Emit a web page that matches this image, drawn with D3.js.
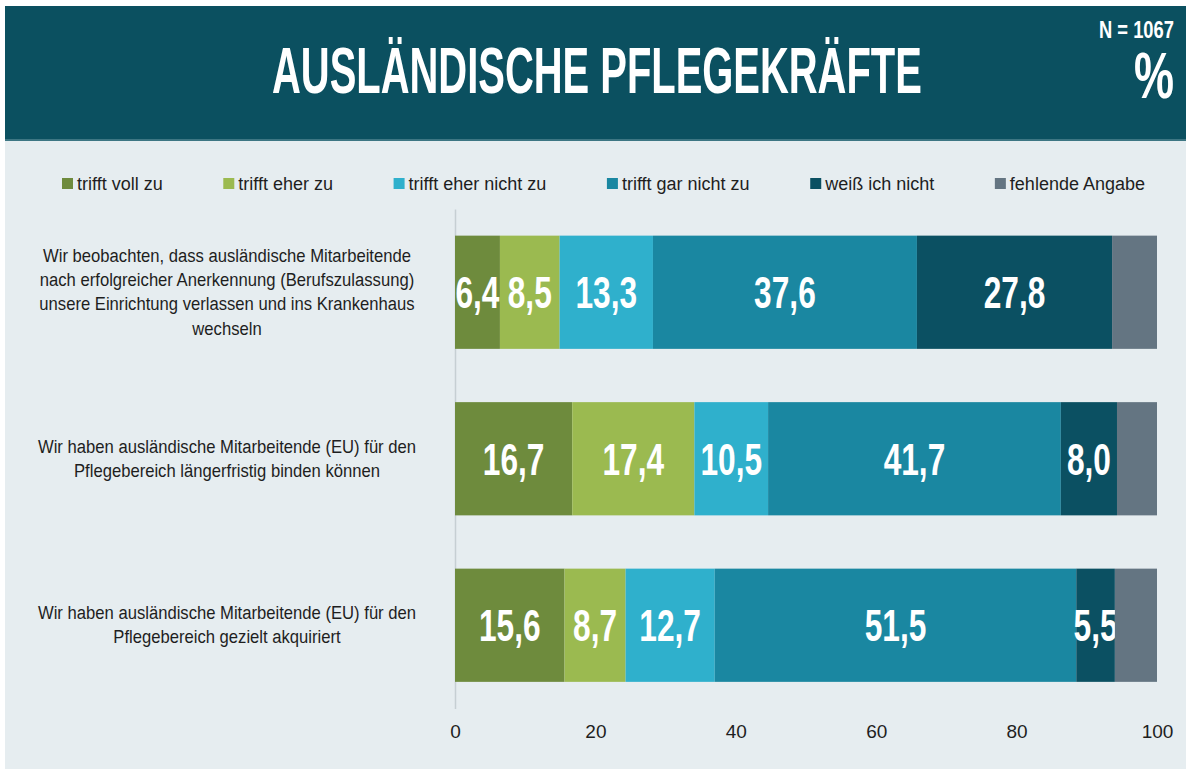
<!DOCTYPE html>
<html>
<head>
<meta charset="utf-8">
<title>Ausländische Pflegekräfte</title>
<script src="https://cdnjs.cloudflare.com/ajax/libs/d3/7.8.5/d3.min.js"></script>
<style>
body { margin: 0; background: #fff; }
.narrow { font-family: "Liberation Sans Narrow", "Arial Narrow", "Liberation Sans", sans-serif; }
.cat-label { font-size: 18.5px; fill: #1e1e1e; text-anchor: middle; }
.legend-label { font-size: 18px; fill: #1e1e1e; }
.tick text { font-family: "Liberation Sans Narrow", "Arial Narrow", "Liberation Sans", sans-serif; font-size: 19px; fill: #1e1e1e; }
.value { font-weight: bold; fill: #fff; text-anchor: middle; }
.head { font-weight: bold; fill: #fff; }
</style>
</head>
<body>
<svg id="chart" width="1186" height="769"></svg>
<script>
// categories (top to bottom)
var categories = [
  "Wir beobachten, dass ausländische Mitarbeitende\nnach erfolgreicher Anerkennung (Berufszulassung)\nunsere Einrichtung verlassen und ins Krankenhaus\nwechseln",
  "Wir haben ausländische Mitarbeitende (EU) für den\nPflegebereich längerfristig binden können",
  "Wir haben ausländische Mitarbeitende (EU) für den\nPflegebereich gezielt akquiriert"
];
var seriesNames = ["trifft voll zu", "trifft eher zu", "trifft eher nicht zu",
                   "trifft gar nicht zu", "weiß ich nicht", "fehlende Angabe"];
var vollZu      = [6.4, 16.7, 15.6];
var eherZu      = [8.5, 17.4, 8.7];
var eherNichtZu = [13.3, 10.5, 12.7];
var garNichtZu  = [37.6, 41.7, 51.5];
var weissNicht  = [27.8, 8.0, 5.5];
var fehlend     = [6.4, 5.7, 6.0];
var xTicks = [0, 20, 40, 60, 80, 100];

var palette = ["#6e8b3d", "#9bba50", "#2fb0cc", "#1a87a1", "#0b5062", "#647582"];
var seriesValues = [vollZu, eherZu, eherNichtZu, garNichtZu, weissNicht, fehlend];

var svg = d3.select("#chart");

// header + background
svg.append("rect").attr("x", 5).attr("y", 140).attr("width", 1181).attr("height", 629)
  .attr("fill", "#e6edf0");
svg.append("rect").attr("x", 5).attr("y", 6).attr("width", 1181).attr("height", 134)
  .attr("fill", "#0b5060");
svg.append("rect").attr("x", 5).attr("y", 139).attr("width", 1181).attr("height", 2)
  .attr("fill", "#3d7683");

// squeeze a header text horizontally so it spans the given width
function headText(str, x0, y0, size, width) {
  var t = svg.append("text").attr("class", "narrow head")
    .style("font-size", size + "px").text(str);
  var w = t.node().getComputedTextLength();
  t.attr("transform", "translate(" + x0 + "," + y0 + ") scale(" + (width / w) + ",1)");
}
headText("AUSLÄNDISCHE PFLEGEKRÄFTE", 272, 93, 64, 650);
headText("N = 1067", 1099, 38, 23, 75);
headText("%", 1134, 98, 64, 40);

// scales
var x = d3.scaleLinear().domain([0, 100]).range([455, 1157]);
var y = d3.scaleBand().domain(d3.range(categories.length))
  .range([209, 708.5]).paddingInner(0.32).paddingOuter(0.16);

// left axis line
svg.append("g")
  .attr("transform", "translate(" + x(0) + ",0)")
  .call(d3.axisLeft(y).tickSize(0).tickFormat(""))
  .call(function (g) { g.select(".domain").attr("stroke", "#c6cfd3").attr("stroke-width", 1.5); });

// bottom axis labels
svg.append("g")
  .attr("transform", "translate(0,720)")
  .call(d3.axisBottom(x).tickValues(xTicks).tickSize(0).tickPadding(5))
  .call(function (g) { g.select(".domain").remove(); });

// stacked bars
var rows = categories.map(function (c, i) {
  var row = { i: i };
  seriesNames.forEach(function (s, k) { row[s] = seriesValues[k][i]; });
  return row;
});
var stack = d3.stack().keys(seriesNames)(rows);

var layers = svg.append("g").selectAll("g")
  .data(stack).enter().append("g")
  .attr("fill", function (d, k) { return palette[k]; });

layers.selectAll("rect")
  .data(function (d) { return d; })
  .enter().append("rect")
  .attr("x", function (d) { return x(d[0]); })
  .attr("y", function (d) { return y(d.data.i); })
  .attr("width", function (d) { return x(d[1]) - x(d[0]); })
  .attr("height", y.bandwidth());

// value labels (not for "fehlende Angabe")
layers.filter(function (d, k) { return k < 5; })
  .selectAll("text")
  .data(function (d) { return d; })
  .enter().append("text")
  .attr("class", "narrow value")
  .attr("transform", function (d) {
    var cx = (x(d[0]) + x(d[1])) / 2;
    var cy = y(d.data.i) + y.bandwidth() / 2 + 16;
    return "translate(" + cx + "," + cy + ") scale(0.72,1)";
  })
  .style("font-size", "44px")
  .text(function (d) { return d3.format(".1f")(d[1] - d[0]).replace(".", ","); });

// category labels
var lineH = 24.5;
categories.forEach(function (c, i) {
  var lines = c.split("\n");
  var cy = y(i) + y.bandwidth() / 2;
  var t = svg.append("text").attr("class", "narrow cat-label")
    .attr("transform", "translate(227," + cy + ") scale(0.9,1)");
  lines.forEach(function (l, j) {
    t.append("tspan")
      .attr("x", 0)
      .attr("y", (j - (lines.length - 1) / 2) * lineH + 6)
      .text(l);
  });
});

// legend, spread from x=62 to x=1145
var legend = svg.append("g");
var items = legend.selectAll("g").data(seriesNames).enter().append("g");
items.append("rect")
  .attr("width", 11).attr("height", 11).attr("y", 178)
  .attr("fill", function (d, k) { return palette[k]; });
items.append("text")
  .attr("class", "narrow legend-label")
  .attr("x", 15).attr("y", 190)
  .text(function (d) { return d; });
var widths = [];
items.each(function () { widths.push(this.getBBox().width); });
var total = d3.sum(widths);
var gap = (1145 - 62 - total) / (seriesNames.length - 1);
var pos = 62;
items.attr("transform", function (d, k) {
  var p = pos; pos += widths[k] + gap;
  return "translate(" + p + ",0)";
});
</script>
</body>
</html>
